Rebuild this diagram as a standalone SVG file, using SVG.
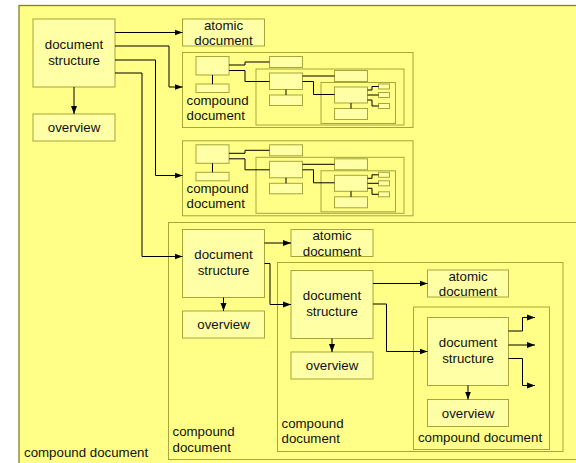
<svg xmlns="http://www.w3.org/2000/svg" width="576" height="463" viewBox="0 0 576 463">
<defs>
<style>
.c{fill:#FFFF88;stroke:#A6A63A;stroke-width:1}
.b{fill:#FFFFA6;stroke:#A6A63A;stroke-width:1}
.w{fill:none;stroke:#000;stroke-width:1}
.a{fill:none;stroke:#000;stroke-width:1;marker-end:url(#ah)}
text{font-family:"Liberation Sans",Arial,sans-serif;font-size:13.3px;fill:#111}
.m{text-anchor:middle}
</style>
<marker id="ah" viewBox="0 0 8 8" refX="8" refY="4" markerWidth="8" markerHeight="8" markerUnits="userSpaceOnUse" orient="auto">
<path d="M0,1 L8,4 L0,7 Z" fill="#000"/>
</marker>
<g id="mini">
<rect class="c" x="182.5" y="52.5" width="230.5" height="75"/>
<rect class="b" x="196" y="56.5" width="33" height="18.5"/>
<rect class="b" x="196" y="84" width="33" height="8.5"/>
<rect class="b" x="269.5" y="56.5" width="33" height="11"/>
<rect class="c" x="256" y="69" width="148" height="56"/>
<rect class="b" x="269.5" y="73" width="33" height="16.5"/>
<rect class="b" x="269.5" y="95" width="33" height="10.5"/>
<rect class="b" x="334.5" y="70.5" width="33" height="11"/>
<rect class="c" x="321" y="82.5" width="74.5" height="41"/>
<rect class="b" x="334.5" y="87" width="33" height="16"/>
<rect class="b" x="334.5" y="108.5" width="33" height="11"/>
<rect class="b" x="378.5" y="84" width="11" height="5"/>
<rect class="b" x="378.5" y="92.5" width="11" height="5"/>
<rect class="b" x="378.5" y="103.5" width="11" height="5"/>
<path class="w" d="M212.5,75V84 M229,65H245V62H269.5 M229,70.5H245V81.5H269.5 M286,89.5V95 M302.5,76H334.5 M302.5,81.5H313.5V94.5H334.5 M351,103V108.5 M367.5,90H372V86.5H378.5 M367.5,95H378.5 M367.5,100H372V106H378.5"/>
<text x="186.5" y="104.5">compound</text>
<text x="186.5" y="119.5">document</text>
</g>
</defs>

<g id="level1">
<rect x="19" y="5.5" width="580" height="480" fill="#FFFF88" stroke="#80801F" stroke-width="1.3"/>
<text x="24" y="457">compound document</text>
</g>

<g id="ds1">
<rect class="b" x="33" y="19" width="82" height="68"/>
<text class="m" x="74" y="48.5">document</text>
<text class="m" x="74" y="64.5">structure</text>
</g>
<g id="ov1">
<rect class="b" x="33" y="114" width="82" height="27"/>
<text class="m" x="74" y="132">overview</text>
</g>
<g id="at1">
<rect class="b" x="182.5" y="19" width="82" height="27"/>
<text class="m" x="223.5" y="29.5">atomic</text>
<text class="m" x="223.5" y="45">document</text>
</g>
<g id="cmini1">
<use href="#mini"/>
</g>
<g id="cmini2">
<use href="#mini" transform="translate(0,88.3)"/>
</g>

<g id="level2">
<rect class="c" x="168.5" y="222.5" width="420" height="237"/>
<text x="172.5" y="436">compound</text>
<text x="172.5" y="451.5">document</text>
</g>
<g id="ds2">
<rect class="b" x="182.5" y="229.5" width="82" height="68"/>
<text class="m" x="223.5" y="259">document</text>
<text class="m" x="223.5" y="275">structure</text>
</g>
<g id="ov2">
<rect class="b" x="182.5" y="311" width="82" height="27"/>
<text class="m" x="223.5" y="329">overview</text>
</g>
<g id="at2">
<rect class="b" x="291" y="229.5" width="82" height="27"/>
<text class="m" x="332" y="240">atomic</text>
<text class="m" x="332" y="255.5">document</text>
</g>

<g id="level3">
<rect class="c" x="277.5" y="262.5" width="285.5" height="189"/>
<text x="281.5" y="427.5">compound</text>
<text x="281.5" y="443">document</text>
</g>
<g id="ds3">
<rect class="b" x="291" y="270.5" width="82" height="68"/>
<text class="m" x="332" y="300">document</text>
<text class="m" x="332" y="316">structure</text>
</g>
<g id="ov3">
<rect class="b" x="291" y="352" width="82" height="27"/>
<text class="m" x="332" y="370">overview</text>
</g>
<g id="at3">
<rect class="b" x="427.5" y="270" width="81" height="27"/>
<text class="m" x="468" y="280.5">atomic</text>
<text class="m" x="468" y="296">document</text>
</g>

<g id="level4">
<rect class="c" x="413.5" y="307" width="136" height="142.5"/>
<text class="m" x="480" y="441.5">compound document</text>
</g>
<g id="ds4">
<rect class="b" x="427.5" y="317.5" width="81" height="68"/>
<text class="m" x="468" y="347">document</text>
<text class="m" x="468" y="363">structure</text>
</g>
<g id="ov4">
<rect class="b" x="427.5" y="399.5" width="81" height="27"/>
<text class="m" x="468" y="417.5">overview</text>
</g>

<g id="connectors">
<path class="a" d="M115,32.5H182.5"/>
<path class="a" d="M115,46H169V87H182.5"/>
<path class="a" d="M115,60H155.5V175.5H182.5"/>
<path class="a" d="M115,73H142V256.5H182.5"/>
<path class="a" d="M74,87V114"/>
<path class="a" d="M264.5,243H291"/>
<path class="a" d="M264.5,263.5H270V304.5H291"/>
<path class="a" d="M223.5,297.5V311"/>
<path class="a" d="M373,283.5H427.5"/>
<path class="a" d="M373,304H386.5V351.5H427.5"/>
<path class="a" d="M332,338.5V352"/>
<path class="a" d="M508.5,331H522.5V317.5H535"/>
<path class="a" d="M508.5,345H535"/>
<path class="a" d="M508.5,358.5H522.5V385.5H535"/>
<path class="a" d="M468,385.5V399.5"/>
</g>
</svg>
